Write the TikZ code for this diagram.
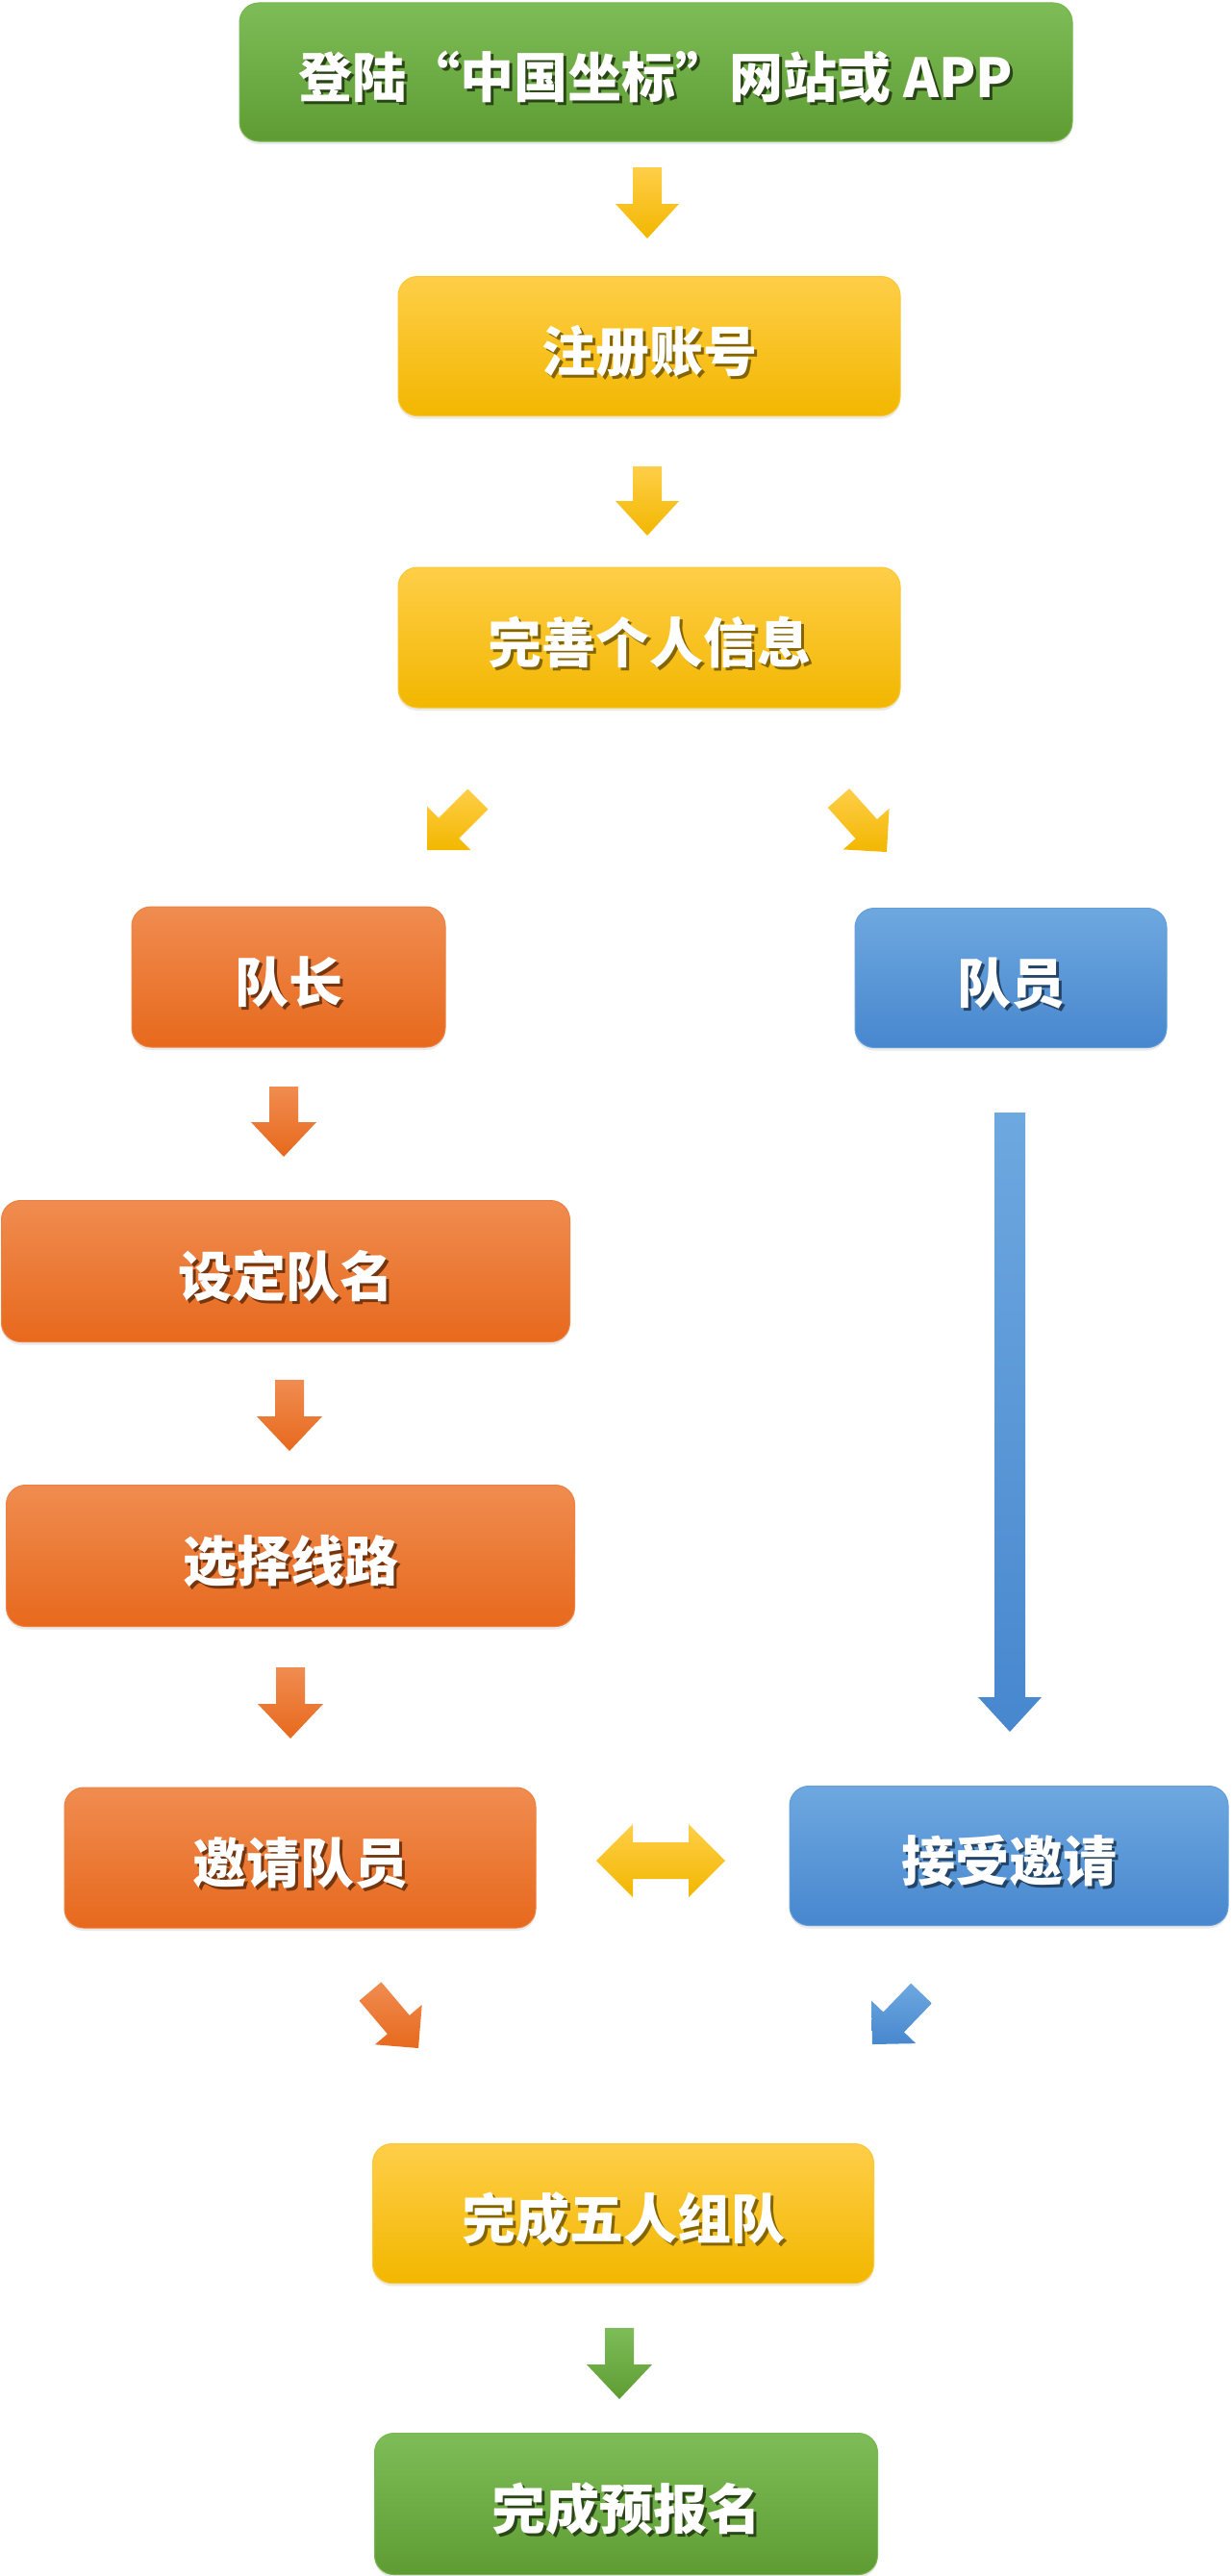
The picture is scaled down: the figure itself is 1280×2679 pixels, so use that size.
\documentclass[tikz,border=0pt]{standalone}
\usepackage{fontspec}
\newfontfamily\cjk{Noto Sans CJK SC}
\usetikzlibrary{calc,shadows}
\definecolor{gTop}{HTML}{7EBC58}
\definecolor{gBot}{HTML}{5E9C33}
\definecolor{yTop}{HTML}{FFCE48}
\definecolor{yBot}{HTML}{F2B700}
\definecolor{oTop}{HTML}{F08C50}
\definecolor{oBot}{HTML}{E7691D}
\definecolor{bTop}{HTML}{6EA8E0}
\definecolor{bBot}{HTML}{4787CE}
\colorlet{shc}{black}
\newcommand\shtxt[1]{\makebox[0pt][l]{\hspace{3pt}\raisebox{-3pt}{\textcolor{shc}{#1}}}#1}
% block arrow: [style]{tail}{tip}{half shaft}{half head}{head length}
\newcommand\blockarrow[6][]{%
  \coordinate (N) at ($(#3)!#6pt!(#2)$);
  \path[#1] ($(#2)!#4pt!90:(#3)$) -- ($(N)!#4pt!90:(#3)$) -- ($(N)!#5pt!90:(#3)$)
    -- (#3) -- ($(N)!#5pt!-90:(#3)$) -- ($(N)!#4pt!-90:(#3)$) -- ($(#2)!#4pt!-90:(#3)$) -- cycle;
}
\tikzset{
  box/.style={rounded corners=20pt, inner sep=0pt, text=white, line width=1pt,
    font=\cjk\bfseries\fontsize{56}{60}\selectfont, text height=52pt, text depth=0pt,
    drop shadow={opacity=0.16, shadow xshift=0pt, shadow yshift=-3pt}},
  gbox/.style={box, top color=gTop, bottom color=gBot, draw=gTop!80!gBot,
    execute at begin node={\colorlet{shc}{gBot!45!black}}},
  ybox/.style={box, top color=yTop, bottom color=yBot, draw=yTop!70!yBot,
    execute at begin node={\colorlet{shc}{yBot!55!black}}},
  obox/.style={box, top color=oTop, bottom color=oBot, draw=oTop!70!oBot,
    execute at begin node={\colorlet{shc}{oBot!50!black}}},
  bbox/.style={box, top color=bTop, bottom color=bBot, draw=bTop!70!bBot,
    execute at begin node={\colorlet{shc}{bBot!50!black}}},
  yarrow/.style={top color=yTop, bottom color=yBot},
  oarrow/.style={top color=oTop, bottom color=oBot},
  barrow/.style={top color=bTop, bottom color=bBot},
  garrow/.style={top color=gTop, bottom color=gBot},
}
\begin{document}
\begin{tikzpicture}[x=1pt,y=-1pt]
\fill[white] (0,0) rectangle (1280,2679);
\useasboundingbox (0,0) rectangle (1280,2679);

% boxes
\node[gbox, minimum width=866pt, minimum height=144pt] (top) at (682,75) {\shtxt{登陆“中国坐标”网站或 APP}};
\node[ybox, minimum width=522pt, minimum height=145pt] (reg) at (675,360) {\shtxt{注册账号}};
\node[ybox, minimum width=522pt, minimum height=146pt] (info) at (675,663) {\shtxt{完善个人信息}};
\node[obox, minimum width=326pt, minimum height=146pt] (cap) at (300,1016) {\shtxt{队长}};
\node[bbox, minimum width=324pt, minimum height=145pt] (mem) at (1051,1017) {\shtxt{队员}};
\node[obox, minimum width=591pt, minimum height=147pt] (name) at (297,1322) {\shtxt{设定队名}};
\node[obox, minimum width=591pt, minimum height=147pt] (route) at (302,1618) {\shtxt{选择线路}};
\node[obox, minimum width=490pt, minimum height=146pt] (invite) at (312,1932) {\shtxt{邀请队员}};
\node[bbox, minimum width=456pt, minimum height=145pt] (accept) at (1049,1930) {\shtxt{接受邀请}};
\node[ybox, minimum width=521pt, minimum height=145pt] (team) at (648,2302) {\shtxt{完成五人组队}};
\node[gbox, minimum width=523pt, minimum height=147pt] (done) at (651,2604) {\shtxt{完成预报名}};

% arrow end points
\coordinate (a1s) at (673,174);  \coordinate (a1e) at (673,248);
\coordinate (a2s) at (673,485);  \coordinate (a2e) at (673,557);
\coordinate (dls) at (497,831);  \coordinate (dle) at (444,884);
\coordinate (drs) at (872,830);  \coordinate (dre) at (922,886);
\coordinate (o1s) at (295,1130); \coordinate (o1e) at (295,1203);
\coordinate (o2s) at (301,1435); \coordinate (o2e) at (301,1509);
\coordinate (o3s) at (302,1734); \coordinate (o3e) at (302,1808);
\coordinate (bls) at (1050,1157); \coordinate (ble) at (1050,1801);
\coordinate (ods) at (385,2071); \coordinate (ode) at (435,2130);
\coordinate (bds) at (958,2073); \coordinate (bde) at (907,2126);
\coordinate (g1s) at (644,2421); \coordinate (g1e) at (644,2495);

\blockarrow[yarrow]{a1s}{a1e}{15}{33}{36}
\blockarrow[yarrow]{a2s}{a2e}{15}{33}{36}
\blockarrow[yarrow]{dls}{dle}{15}{32}{32}
\blockarrow[yarrow]{drs}{dre}{15}{32}{32}
\blockarrow[oarrow]{o1s}{o1e}{15}{34}{36}
\blockarrow[oarrow]{o2s}{o2e}{15}{34}{36}
\blockarrow[oarrow]{o3s}{o3e}{15}{34}{36}
\blockarrow[barrow]{bls}{ble}{16}{33}{36}
\blockarrow[oarrow]{ods}{ode}{15}{32}{32}
\blockarrow[barrow]{bds}{bde}{15}{32}{32}
\blockarrow[garrow]{g1s}{g1e}{15}{34}{36}

% double arrow
\coordinate (dal) at (620,1935); \coordinate (dar) at (754,1935);
\path[yarrow] (dal) -- (658,1897) -- (658,1916) -- (716,1916) -- (716,1897) -- (dar)
  -- (716,1973) -- (716,1954) -- (658,1954) -- (658,1973) -- cycle;
\end{tikzpicture}
\end{document}
